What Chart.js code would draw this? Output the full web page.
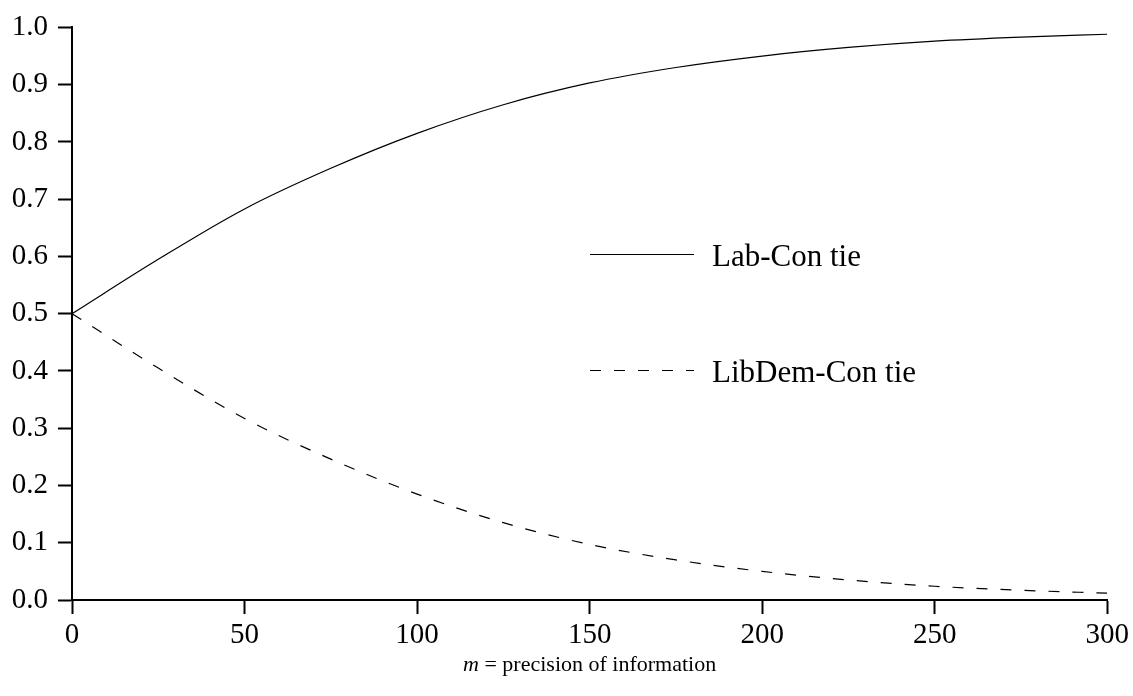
<!DOCTYPE html>
<html>
<head>
<meta charset="utf-8">
<script src="https://cdn.jsdelivr.net/npm/chart.js@4"></script>
<style>
  html, body { margin: 0; padding: 0; background: #ffffff; }
  #wrap { width: 1133px; height: 696px; }
</style>
</head>
<body>
<div id="wrap"><canvas id="tieChart" width="1133" height="696"></canvas></div>
<script>
// values
const precision = [0, 25, 50, 75, 100, 125, 150, 175, 200, 225, 250, 275, 300];
const labConTie = [0.500, 0.595, 0.683, 0.754, 0.815, 0.865, 0.903, 0.930, 0.950, 0.965, 0.976, 0.983, 0.988];
const libDemConTie = [0.500, 0.405, 0.317, 0.246, 0.185, 0.135, 0.097, 0.070, 0.050, 0.035, 0.024, 0.017, 0.012];
const seriesNames = ['Lab-Con tie', 'LibDem-Con tie'];
const xTicks = [0, 50, 100, 150, 200, 250, 300];
const yTicks = [0, 0.1, 0.2, 0.3, 0.4, 0.5, 0.6, 0.7, 0.8, 0.9, 1.0];

const serif = "'Liberation Serif', 'DejaVu Serif', serif";

// draws the in-plot legend and the mixed-style axis title
const annotations = {
  id: 'annotations',
  afterDraw(chart) {
    const ctx = chart.ctx;
    const area = chart.chartArea;
    ctx.save();
    ctx.fillStyle = '#000';
    ctx.strokeStyle = '#000';

    // legend
    const rows = [254.5, 370.5];
    chart.data.datasets.forEach((ds, i) => {
      const y = rows[i];
      ctx.lineWidth = 1;
      ctx.setLineDash(ds.borderDash || []);
      ctx.beginPath();
      ctx.moveTo(590, y);
      ctx.lineTo(694, y);
      ctx.stroke();
      ctx.setLineDash([]);
      ctx.font = '31px ' + serif;
      ctx.textBaseline = 'alphabetic';
      ctx.fillText(ds.label, 712, y + 11);
    });

    // x axis title
    const italic = 'italic 22px ' + serif;
    const plain = '22px ' + serif;
    ctx.font = italic;
    const w1 = ctx.measureText('m').width;
    ctx.font = plain;
    const rest = ' = precision of information';
    const w2 = ctx.measureText(rest).width;
    const x0 = (area.left + area.right) / 2 - (w1 + w2) / 2;
    ctx.font = italic;
    ctx.fillText('m', x0, 671);
    ctx.font = plain;
    ctx.fillText(rest, x0 + w1, 671);
    ctx.restore();
  }
};

const ctx = document.getElementById('tieChart').getContext('2d');
new Chart(ctx, {
  type: 'line',
  data: {
    datasets: [
      {
        label: seriesNames[0],
        data: precision.map((m, i) => ({ x: m, y: labConTie[i] })),
        borderColor: '#000',
        borderWidth: 1.2,
        pointRadius: 0,
        cubicInterpolationMode: 'monotone',
        fill: false
      },
      {
        label: seriesNames[1],
        data: precision.map((m, i) => ({ x: m, y: libDemConTie[i] })),
        borderColor: '#000',
        borderWidth: 1.2,
        borderDash: [11, 13],
        pointRadius: 0,
        cubicInterpolationMode: 'monotone',
        fill: false
      }
    ]
  },
  options: {
    responsive: false,
    animation: false,
    layout: { padding: { top: 24, right: 24, left: 0, bottom: 0 } },
    plugins: {
      legend: { display: false },
      tooltip: { enabled: false }
    },
    scales: {
      x: {
        type: 'linear',
        min: 0,
        max: 300,
        afterBuildTicks: scale => { scale.ticks = xTicks.map(v => ({ value: v })); },
        afterFit: scale => { scale.height = 96; },
        border: { display: true, color: '#000', width: 2 },
        grid: { drawOnChartArea: false, drawTicks: true, tickLength: 14, tickColor: '#000', tickWidth: 2 },
        ticks: { color: '#000', font: { family: serif, size: 29 }, padding: 4, maxRotation: 0 }
      },
      y: {
        type: 'linear',
        min: 0,
        max: 1,
        afterBuildTicks: scale => { scale.ticks = yTicks.map(v => ({ value: v })); },
        afterFit: scale => { scale.width = 72; },
        border: { display: true, color: '#000', width: 2 },
        grid: { drawOnChartArea: false, drawTicks: true, tickLength: 14, tickColor: '#000', tickWidth: 2 },
        ticks: {
          color: '#000',
          font: { family: serif, size: 29 },
          padding: 10,
          callback: value => Number(value).toFixed(1)
        }
      }
    }
  },
  plugins: [annotations]
});
</script>
</body>
</html>
